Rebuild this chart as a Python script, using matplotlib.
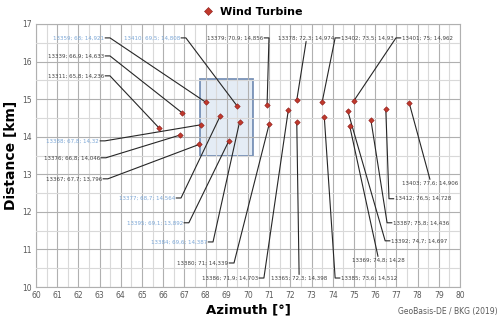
import matplotlib
matplotlib.use("Agg")
import matplotlib.pyplot as plt
from matplotlib.patches import Rectangle

# turbine data: id, azimuth [deg], distance [km]
ids = [13359, 13410, 13379, 13378, 13402, 13401, 13339, 13311, 13388, 13376, 13367, 13377,
       13395, 13384, 13380, 13386, 13365, 13385, 13369, 13392, 13387, 13412, 13403]
azimuth = [68, 69.5, 70.9, 72.3, 73.5, 75, 66.9, 65.8, 67.8, 66.8, 67.7, 68.7,
           69.1, 69.6, 71, 71.9, 72.3, 73.6, 74.8, 74.7, 75.8, 76.5, 77.6]
distance = [14.921, 14.808, 14.856, 14.974, 14.93, 14.962, 14.633, 14.236, 14.32, 14.046, 13.796, 14.564,
            13.892, 14.387, 14.339, 14.703, 14.398, 14.512, 14.28, 14.697, 14.436, 14.728, 14.906]
azimuth_txt = ["68", "69,5", "70,9", "72,3", "73,5", "75", "66,9", "65,8", "67,8", "66,8", "67,7", "68,7",
               "69,1", "69,6", "71", "71,9", "72,3", "73,6", "74,8", "74,7", "75,8", "76,5", "77,6"]
distance_txt = ["14,921", "14,808", "14,856", "14,974", "14,93", "14,962", "14,633", "14,236", "14,32",
                "14,046", "13,796", "14,564", "13,892", "14,387", "14,339", "14,703", "14,398", "14,512",
                "14,28", "14,697", "14,436", "14,728", "14,906"]
highlight = [13359, 13410, 13388, 13377, 13395, 13384]

# label layout: x, y (text centre), alignment
lab_x = [63.21, 66.79, 70.71, 72.74, 74.39, 77.26, 63.21, 63.21, 62.97, 63.02, 63.11, 66.56,
         66.93, 68.07, 69.06, 70.47, 72.41, 74.39, 76.13, 76.75, 76.84, 76.93, 78.58]
lab_y = [16.63, 16.63, 16.63, 16.63, 16.63, 16.63, 16.15, 15.62, 13.89, 13.44, 12.88, 12.37,
         11.71, 11.20, 10.64, 10.24, 10.24, 10.24, 10.72, 11.23, 11.71, 12.35, 12.77]
lab_ha = ["right", "right", "right", "center", "left", "left", "right", "right", "right", "right",
          "right", "right", "right", "right", "right", "right", "center", "left", "center", "left",
          "left", "left", "center"]

fig = plt.figure(figsize=(5, 3.2), dpi=100)
ax = fig.add_axes([0.072, 0.103, 0.848, 0.822])
ax.set_xlim(60, 80)
ax.set_ylim(10, 17)
ax.set_xticks(range(60, 81))
ax.set_yticks(range(10, 18))
ax.set_xticks([x + 0.5 for x in range(60, 80)], minor=True)
ax.set_yticks([y + 0.5 for y in range(10, 17)], minor=True)
ax.grid(which="major", color="#b0b0b0", linewidth=0.8, zorder=2)
ax.grid(which="minor", color="#d9d9d9", linewidth=0.8, zorder=2)
ax.tick_params(which="both", length=0, labelsize=5.5, labelcolor="#595959", pad=3)
for s in ax.spines.values():
    s.set_color("#b0b0b0")
    s.set_linewidth(0.8)
ax.set_axisbelow(False)

ax.add_patch(Rectangle((67.74, 13.49), 2.51, 2.05, facecolor="#dce6f2", alpha=0.75,
                       edgecolor="#4f6fa0", linewidth=1.3, zorder=1))

gap = 0.06
tick = 0.22
half_h = 0.1
for i in range(len(ids)):
    tx, ty, ha = lab_x[i], lab_y[i], lab_ha[i]
    px, py = azimuth[i], distance[i]
    if ha == "right":
        xs = [tx + gap, tx + gap + tick, px]
        ys = [ty, ty, py]
    elif ha == "left":
        xs = [tx - gap, tx - gap - tick, px]
        ys = [ty, ty, py]
    else:
        end = ty - half_h if py < ty else ty + half_h
        xs = [tx, px]
        ys = [end, py]
    ax.plot(xs, ys, color="#262626", linewidth=0.8, zorder=3)
    col = "#7aa6d6" if ids[i] in highlight else "#404040"
    ax.text(tx, ty, "%d; %s; %s" % (ids[i], azimuth_txt[i], distance_txt[i]),
            ha=ha, va="center", fontsize=4.0, color=col, zorder=5)

ax.plot(azimuth, distance, linestyle="none", marker="D", markersize=2.8,
        markerfacecolor="#c0392b", markeredgecolor="#8b1a1a", markeredgewidth=0.4,
        zorder=4, label="Wind Turbine")

ax.set_xlabel("Azimuth [°]", fontsize=9.5, fontweight="bold", labelpad=2)
ax.set_ylabel("Distance [km]", fontsize=10, fontweight="bold", labelpad=3)

fig.legend(handles=ax.get_lines()[-1:], loc="upper center", bbox_to_anchor=(0.5, 1.01),
           frameon=False, prop={"size": 8, "weight": "bold"}, handletextpad=0.1,
           markerscale=1.6)
fig.text(0.995, 0.012, "GeoBasis-DE / BKG (2019)", ha="right", va="bottom",
         fontsize=5.5, color="#595959")

fig.savefig("out.png", dpi=100)
